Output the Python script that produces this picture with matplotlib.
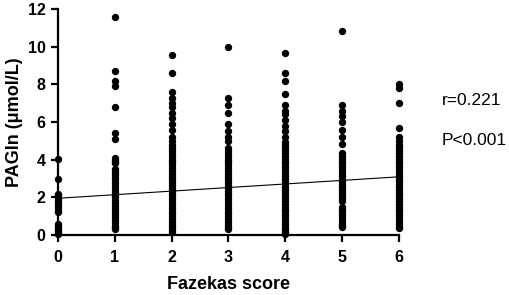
import numpy as np
import matplotlib
matplotlib.use('Agg')
import matplotlib.pyplot as plt

plt.rcParams['font.family'] = ['Liberation Sans', 'DejaVu Sans']

# Значения PAGln по группам Fazekas
fazekas_scores = [0, 1, 2, 3, 4, 5, 6]
pagln_0 = [4.05, 2.95, 2.2, 2.1, 2.0, 1.9, 1.8, 1.7, 1.55, 1.45, 1.3, 1.2,
           0.6, 0.5, 0.4, 0.3, 0.2, 0.1, 0.05]
pagln_1 = [11.55, 8.7, 8.2, 7.9, 6.8, 5.4, 5.1, 4.1, 4.0, 3.9, 3.8, 3.5, 3.4,
           3.3, 3.2, 3.05, 2.9, 2.75, 2.6, 2.45, 2.3, 2.15, 2.0, 1.85, 1.7,
           1.55, 1.4, 1.25, 1.1, 0.95, 0.8, 0.65, 0.5, 0.4, 0.3]
pagln_2 = [9.55, 8.6, 7.6, 7.3, 7.0, 6.8, 6.5, 6.2, 5.9, 5.6, 5.2, 5.0, 4.8,
           4.6, 4.45, 4.3, 4.15, 4.0, 3.85, 3.7, 3.55, 3.4, 3.25, 3.1, 2.95,
           2.8, 2.65, 2.5, 2.35, 2.2, 2.05, 1.9, 1.75, 1.6, 1.45, 1.3, 1.15,
           1.0, 0.85, 0.7, 0.55, 0.4, 0.25, 0.15]
pagln_3 = [10.0, 7.3, 6.9, 6.5, 5.9, 5.5, 5.2, 5.0, 4.6, 4.45, 4.3, 4.15,
           4.0, 3.85, 3.7, 3.55, 3.4, 3.25, 3.1, 2.95, 2.8, 2.65, 2.5, 2.35,
           2.2, 2.05, 1.9, 1.75, 1.6, 1.45, 1.3, 1.15, 1.0, 0.85, 0.7, 0.55,
           0.4, 0.3]
pagln_4 = [9.65, 8.6, 8.2, 7.5, 6.9, 6.6, 6.4, 6.1, 5.8, 5.5, 5.2, 4.95,
           4.8, 4.65, 4.5, 4.35, 4.2, 4.05, 3.9, 3.75, 3.6, 3.45, 3.3, 3.15,
           3.0, 2.85, 2.7, 2.55, 2.4, 2.25, 2.1, 1.95, 1.8, 1.65, 1.5, 1.35,
           1.2, 1.05, 0.9, 0.75, 0.6, 0.45, 0.3, 0.15, 0.05]
pagln_5 = [10.85, 6.9, 6.6, 6.3, 6.0, 5.6, 5.2, 4.85, 4.35, 4.2, 4.05, 3.9,
           3.75, 3.6, 3.45, 3.3, 3.15, 3.0, 2.85, 2.7, 2.55, 2.4, 2.25, 2.1,
           1.95, 1.8, 1.5, 1.35, 1.2, 1.05, 0.9, 0.75, 0.6, 0.5, 0.4]
pagln_6 = [8.0, 7.8, 7.0, 5.7, 5.2, 5.0, 4.8, 4.65, 4.5, 4.35, 4.2, 4.05,
           3.9, 3.75, 3.6, 3.45, 3.3, 3.15, 3.0, 2.85, 2.7, 2.55, 2.4, 2.25,
           2.1, 1.95, 1.8, 1.65, 1.5, 1.35, 1.2, 1.05, 0.9, 0.75, 0.6, 0.45,
           0.35]
groups = [pagln_0, pagln_1, pagln_2, pagln_3, pagln_4, pagln_5, pagln_6]

# Линия регрессии (со скриншота)
fit_intercept = 1.95
fit_slope = 0.19
r_text = "r=0.221"
p_text = "P<0.001"

fig = plt.figure(figsize=(5.1, 2.95), dpi=100)
ax = fig.add_axes([58/510, 1 - 235/295, (399-58)/510, (235-9)/295])

for score, vals in zip(fazekas_scores, groups):
    ax.scatter([score] * len(vals), vals, s=28, c='black', linewidths=0,
               clip_on=False, zorder=3)

xs = np.array([0, 6])
ax.plot(xs, fit_intercept + fit_slope * xs, color='black', lw=0.8, zorder=2)

ax.set_xlim(0, 6)
ax.set_ylim(0, 12)
ax.set_xticks(fazekas_scores)
ax.set_yticks([0, 2, 4, 6, 8, 10, 12])
for s in ['top', 'right']:
    ax.spines[s].set_visible(False)
for s in ['left', 'bottom']:
    ax.spines[s].set_linewidth(1.6)
ax.tick_params(width=1.6, length=5, labelsize=11.5, pad=4)
ax.tick_params(axis='x', pad=6)
for lbl in ax.get_xticklabels() + ax.get_yticklabels():
    lbl.set_fontweight('bold')

ax.set_xlabel('Fazekas score', fontsize=13, fontweight='bold', labelpad=8)
ax.set_ylabel('PAGln (μmol/L)', fontsize=13, fontweight='bold', labelpad=3)

fig.text(442/510, 1 - 101/295, r_text, fontsize=12.5, va='center', ha='left')
fig.text(442/510, 1 - 140/295, p_text, fontsize=12.5, va='center', ha='left')

fig.savefig('out.png', dpi=100)
